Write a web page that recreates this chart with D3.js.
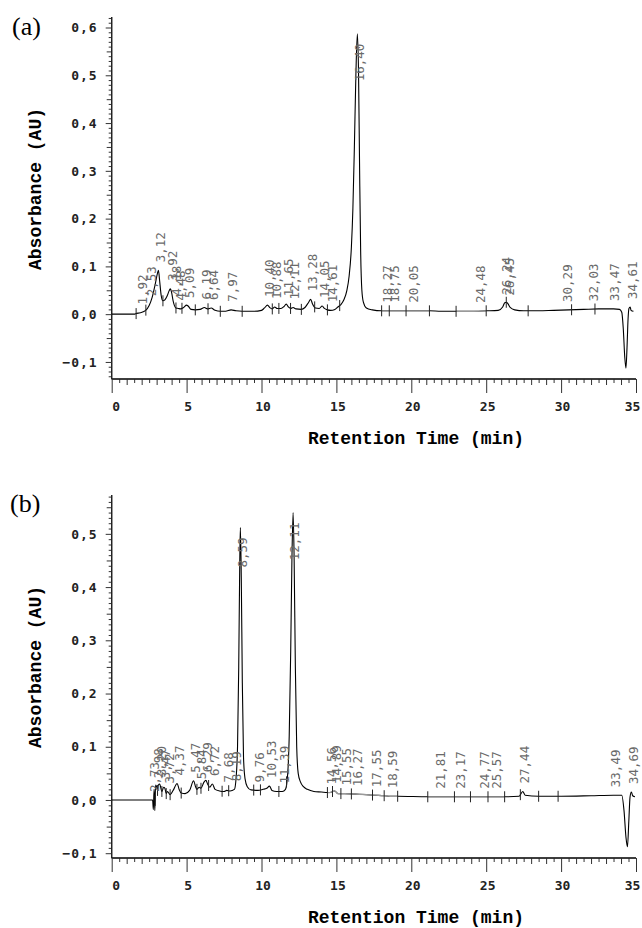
<!DOCTYPE html>
<html>
<head>
<meta charset="utf-8">
<script src="https://cdn.jsdelivr.net/npm/d3@7"></script>
<style>
  body { margin: 0; background: #fff; }
  svg { display: block; }
</style>
</head>
<body>
<svg id="chart" width="642" height="928"></svg>
<script>
// chromatogram (a): [time min, absorbance AU]
const traceA = [
  [0,0],[1,0],[1.55,0],[1.6,0.001],[1.9,0.003],[2.27,0.008],[2.5,0.018],[2.7,0.035],
  [2.9,0.062],[3.05,0.085],[3.12,0.092],[3.2,0.07],[3.3,0.04],[3.42,0.028],[3.55,0.03],
  [3.7,0.038],[3.85,0.05],[3.92,0.053],[4.0,0.045],[4.1,0.028],[4.29,0.013],[4.45,0.012],
  [4.6,0.011],[4.8,0.014],[5.0,0.019],[5.1,0.017],[5.3,0.01],[5.58,0.009],[5.9,0.01],
  [6.19,0.014],[6.4,0.011],[6.64,0.013],[6.9,0.008],[7.25,0.006],[7.6,0.006],[7.97,0.009],
  [8.3,0.007],[8.7,0.006],[9.5,0.006],[10.0,0.008],[10.2,0.013],[10.4,0.019],[10.55,0.014],
  [10.72,0.011],[10.88,0.015],[11.05,0.012],[11.3,0.012],[11.5,0.016],[11.65,0.021],
  [11.8,0.015],[11.94,0.012],[12.11,0.014],[12.3,0.011],[12.66,0.01],[12.9,0.014],
  [13.15,0.025],[13.28,0.031],[13.4,0.022],[13.6,0.013],[13.85,0.012],[14.05,0.017],
  [14.2,0.012],[14.4,0.009],[14.61,0.008],[14.9,0.01],[15.1,0.015],[15.3,0.02],[15.5,0.03],
  [15.7,0.05],[15.85,0.08],[16.0,0.14],[16.1,0.22],[16.2,0.35],[16.3,0.5],[16.4,0.587],
  [16.48,0.5],[16.55,0.3],[16.62,0.13],[16.7,0.05],[16.8,0.025],[17.0,0.013],[17.4,0.009],
  [18.0,0.007],[19.0,0.007],[20.0,0.007],[21.2,0.007],[22,0.006],[23,0.006],[24,0.006],
  [25,0.007],[25.8,0.008],[26.1,0.015],[26.24,0.024],[26.35,0.025],[26.45,0.022],
  [26.6,0.014],[26.9,0.009],[27.5,0.007],[28.5,0.007],[29.5,0.008],[30.5,0.009],
  [31.5,0.01],[32.5,0.011],[33.5,0.011],[33.9,0.01],[34.05,0.004],[34.15,-0.03],
  [34.25,-0.09],[34.33,-0.113],[34.4,-0.07],[34.47,-0.01],[34.53,0.012],[34.61,0.015],
  [34.67,0.008],[34.83,0.006]
];
const peaksA = [1.92,2.53,3.12,3.92,4.18,4.48,5.09,6.19,6.64,7.97,10.40,10.88,11.65,12.11,
  13.28,14.05,14.61,16.40,18.27,18.75,20.05,24.48,26.24,26.45,30.29,32.03,33.47,34.61];
const marksA = [1.63,2.28,3.42,4.29,4.69,5.58,6.43,7.25,8.71,10.72,11.16,11.94,12.66,13.55,
  14.40,15.22,18.02,18.53,19.65,21.21,22.99,25.0,26.34,27.8,30.7,32.26];
// stretches of (a) drawn in grey (baseline segments)
const greyA = [[18.0, 21.2], [23.0, 25.0]];

// chromatogram (b)
const traceB = [
  [0,0],[2.6,0],[2.73,0],[2.78,-0.018],[2.83,0.02],[2.88,-0.02],[2.93,0.028],[3.0,0.025],
  [3.06,0.018],[3.12,0.028],[3.2,0.03],[3.35,0.016],[3.47,0.024],[3.55,0.022],[3.64,0.012],
  [3.72,0.016],[3.9,0.01],[4.1,0.018],[4.37,0.031],[4.5,0.02],[4.64,0.013],[4.9,0.012],
  [5.2,0.018],[5.47,0.036],[5.6,0.025],[5.69,0.02],[5.84,0.024],[5.96,0.022],[6.15,0.033],
  [6.29,0.037],[6.4,0.03],[6.55,0.024],[6.72,0.03],[6.9,0.02],[7.2,0.017],[7.5,0.016],
  [7.68,0.018],[7.9,0.017],[8.19,0.02],[8.3,0.04],[8.4,0.1],[8.48,0.25],[8.55,0.45],
  [8.59,0.512],[8.65,0.42],[8.72,0.22],[8.8,0.08],[8.9,0.04],[9.05,0.025],[9.3,0.019],
  [9.76,0.018],[10.1,0.02],[10.35,0.022],[10.53,0.026],[10.7,0.018],[11.0,0.016],
  [11.39,0.016],[11.6,0.02],[11.75,0.05],[11.85,0.12],[11.95,0.28],[12.03,0.45],
  [12.11,0.54],[12.18,0.45],[12.26,0.25],[12.35,0.1],[12.45,0.05],[12.6,0.034],
  [12.8,0.025],[13.06,0.02],[13.5,0.016],[14.0,0.015],[14.4,0.014],[14.56,0.014],
  [14.75,0.016],[14.89,0.017],[15.1,0.012],[15.55,0.012],[16.27,0.011],[17.0,0.01],
  [17.55,0.009],[18.2,0.008],[18.59,0.007],[19.1,0.007],[21.1,0.006],[23,0.006],
  [25,0.006],[26.2,0.006],[27.2,0.007],[27.44,0.016],[27.6,0.009],[28.5,0.007],[30,0.007],
  [32,0.008],[33.49,0.009],[34.05,0.009],[34.2,-0.02],[34.33,-0.07],[34.43,-0.088],
  [34.52,-0.04],[34.6,0.005],[34.69,0.015],[34.78,0.008],[34.93,0.006]
];
const peaksB = [2.73,2.98,3.20,3.47,3.72,4.37,5.47,5.84,6.29,6.72,7.68,8.19,8.59,9.76,10.53,
  11.39,12.11,14.56,14.89,15.55,16.27,17.55,18.59,21.81,23.17,24.77,25.57,27.44,33.49,34.69];
const marksB = [2.9,3.06,3.35,3.64,3.9,4.64,5.69,5.96,6.47,7.37,7.81,9.48,9.93,11.16,11.67,
  14.4,14.74,15.3,16.0,17.41,18.19,19.09,21.1,22.88,23.95,25.12,26.23,27.28,28.5,29.8];
const greyB = [[14.4, 19.1], [21.1, 26.2]];

const xTicks = [0,5,10,15,20,25,30,35];
const yTicksA = [-0.1,0,0.1,0.2,0.3,0.4,0.5,0.6];
const yTicksB = [-0.1,0,0.1,0.2,0.3,0.4,0.5];

const svg = d3.select("#chart");
const comma = v => d3.format(".1f")(v).replace(".", ",");
const peakFmt = v => d3.format(".2f")(v).replace(".", ",");

const x = d3.scaleLinear().domain([0, 35]).range([111.7, 636]);

function panel(opt) {
  const g = svg.append("g");
  const y = d3.scaleLinear().domain(opt.yDomain).range([opt.bottom, opt.top]);
  const [y0, y1] = opt.yDomain;

  // x axis: minor 0.5, medium 1, major 5
  const half = d3.range(0.5, 35, 1);
  const ones = d3.range(1, 35, 1).filter(v => v % 5 !== 0);
  const gx = g.append("g").attr("transform", `translate(0,${opt.bottom})`);
  gx.append("g").call(d3.axisBottom(x).tickValues(half).tickSize(4).tickFormat(""));
  gx.append("g").call(d3.axisBottom(x).tickValues(ones).tickSize(6).tickFormat(""));
  gx.append("g").call(d3.axisBottom(x).tickValues(xTicks).tickSize(14).tickPadding(9).tickFormat(d3.format("d")));
  gx.selectAll(".domain").attr("stroke", "#222").attr("d", `M${x(0)},0H${x(35)}`);
  gx.selectAll("line").attr("stroke", "#333");
  gx.selectAll("text")
    .attr("fill", "#222")
    .style("font-family", "DejaVu Sans Mono")
    .style("font-weight", "bold")
    .style("font-size", "13px")
    .attr("dx", d => d === 0 ? 4 : d === 35 ? -4 : 1);

  // y axis: minor 0.01, medium 0.05, major 0.1
  const yMinor = d3.range(Math.ceil(y0 * 100), Math.floor(y1 * 100) + 1).map(v => v / 100);
  const gy = g.append("g").attr("transform", `translate(${x(0)},0)`);
  gy.append("g").call(d3.axisLeft(y).tickValues(yMinor.filter(v => Math.round(v * 100) % 5 !== 0)).tickSize(3).tickFormat(""));
  gy.append("g").call(d3.axisLeft(y).tickValues(yMinor.filter(v => Math.abs(Math.round(v * 100)) % 10 === 5)).tickSize(5).tickFormat(""));
  gy.append("g").call(d3.axisLeft(y).tickValues(opt.yTicks).tickSize(6).tickPadding(8).tickFormat(comma));
  gy.selectAll(".domain").attr("stroke", "#222").attr("d", `M0,${opt.top}V${opt.bottom}`);
  gy.selectAll("line").attr("stroke", "#333");
  gy.selectAll("text")
    .attr("fill", "#222")
    .style("font-family", "DejaVu Sans Mono")
    .style("font-weight", "bold")
    .style("font-size", "13px")
    .style("letter-spacing", "1px");

  // signal
  const line = d3.line().x(d => x(d[0])).y(d => y(d[1])).curve(d3.curveMonotoneX);
  g.append("path").datum(opt.trace)
    .attr("fill", "none").attr("stroke", "#000").attr("stroke-width", 1.1)
    .attr("d", line);
  g.append("g").selectAll("path").data(opt.grey).join("path")
    .attr("fill", "none").attr("stroke", "#9a9a9a").attr("stroke-width", 1.3)
    .attr("d", r => line(opt.trace.filter(p => p[0] >= r[0] && p[0] <= r[1])));

  const bis = d3.bisector(d => d[0]).left;
  const at = t => {
    const i = Math.max(1, Math.min(opt.trace.length - 1, bis(opt.trace, t)));
    const a = opt.trace[i - 1], b = opt.trace[i];
    return a[1] + (b[1] - a[1]) * (t - a[0]) / (b[0] - a[0]);
  };

  // integration markers
  g.append("g").selectAll("line").data(opt.marks).join("line")
    .attr("x1", d => x(d)).attr("x2", d => x(d))
    .attr("y1", d => y(at(d)) - 5.5).attr("y2", d => y(at(d)) + 5.5)
    .attr("stroke", "#222").attr("stroke-width", 1);

  // retention time labels
  g.append("g").selectAll("text").data(opt.peaks).join("text")
    .text(peakFmt)
    .attr("fill", "#6a6a6a")
    .style("font-family", "DejaVu Sans Mono")
    .style("font-size", "12.5px")
    .attr("dy", "0.35em")
    .each(function (d) {
      const len = this.getComputedTextLength();
      const ys = y(at(d));
      let base = ys - 8;
      let anchor = "start";
      if (base - len < opt.top + 2) { base = ys + 10; anchor = "end"; }
      d3.select(this).attr("text-anchor", anchor)
        .attr("transform", `translate(${x(d) + 2},${base}) rotate(-90)`);
    });

  // titles
  g.append("text").text("Absorbance (AU)")
    .attr("transform", `translate(35,${opt.top + 172}) rotate(-90)`)
    .attr("text-anchor", "middle").attr("dy", "0.35em")
    .style("font-family", "Liberation Mono").style("font-weight", "bold").style("font-size", "18px");
  g.append("text").text("Retention Time (min)")
    .attr("x", 416).attr("y", opt.bottom + 59)
    .attr("text-anchor", "middle").attr("dy", "0.35em")
    .style("font-family", "Liberation Mono").style("font-weight", "bold").style("font-size", "18px");
  g.append("text").text(opt.tag)
    .attr("x", opt.tagX).attr("y", opt.tagY)
    .style("font-family", "Liberation Serif").style("font-size", "26px");
}

panel({ trace: traceA, peaks: peaksA, marks: marksA, grey: greyA, yTicks: yTicksA,
  yDomain: [-0.1357, 0.622], top: 17, bottom: 379, tag: "(a)", tagX: 12, tagY: 35 });
panel({ trace: traceB, peaks: peaksB, marks: marksB, grey: greyB, yTicks: yTicksB,
  yDomain: [-0.109, 0.573], top: 495, bottom: 858, tag: "(b)", tagX: 10, tagY: 512 });
</script>
</body>
</html>
